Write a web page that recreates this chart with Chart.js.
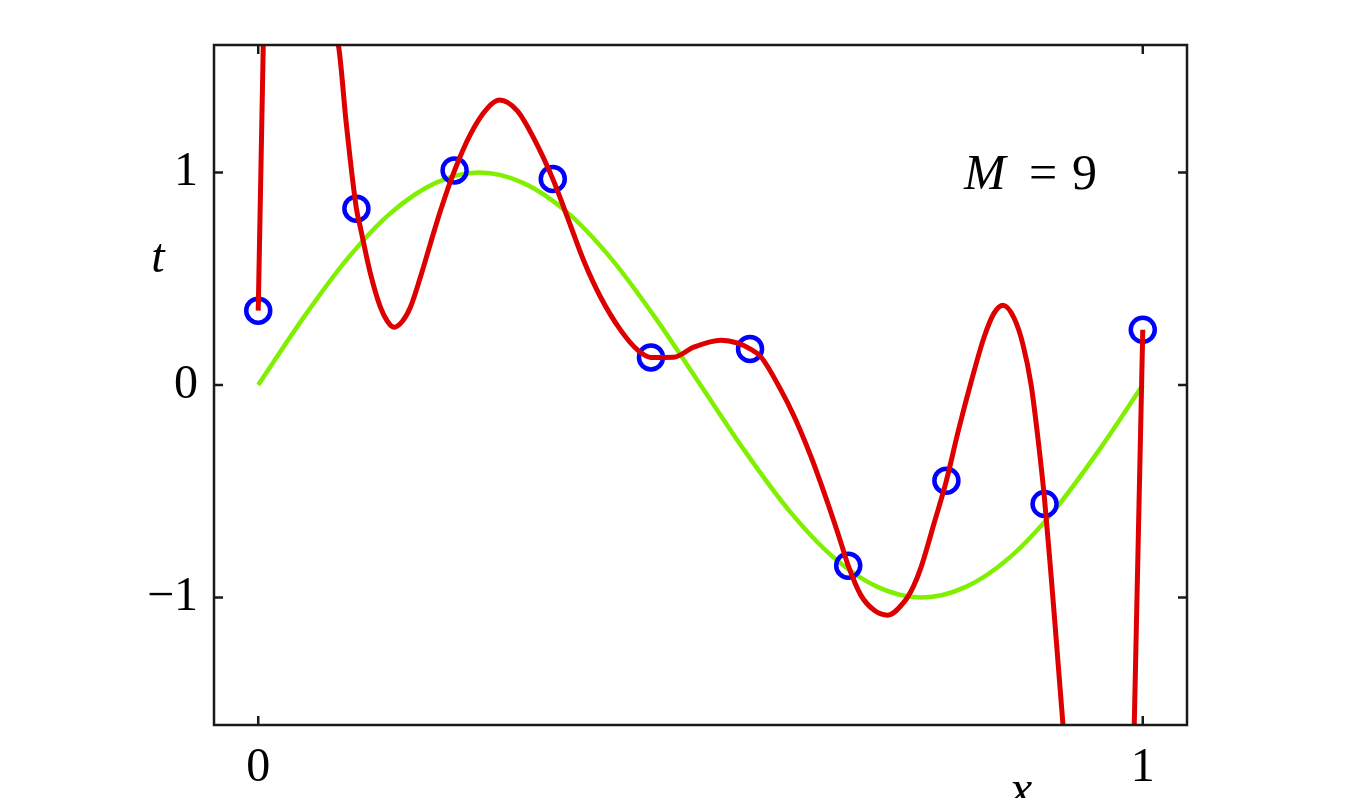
<!DOCTYPE html>
<html>
<head>
<meta charset="utf-8">
<script src="https://cdn.jsdelivr.net/npm/chart.js"></script>
<style>
  html, body { margin: 0; padding: 0; background: #fff; }
  #wrap { width: 1356px; height: 810px; }
</style>
</head>
<body>
<div id="wrap"><canvas id="chart" width="1356" height="810"></canvas></div>
<script>
// observed points
const pointX = [0, 0.111, 0.222, 0.333, 0.444, 0.556, 0.667, 0.778, 0.889, 1];
const pointT = [0.35, 0.83, 1.01, 0.97, 0.13, 0.17, -0.85, -0.45, -0.56, 0.26];

// green curve
const greenX = [0, 0.05, 0.1, 0.15, 0.2, 0.25, 0.3, 0.35, 0.4, 0.45, 0.5, 0.55, 0.6, 0.65, 0.7, 0.75, 0.8, 0.85, 0.9, 0.95, 1];
const greenT = [0, 0.31, 0.59, 0.81, 0.95, 1.0, 0.95, 0.81, 0.59, 0.31, 0, -0.31, -0.59, -0.81, -0.95, -1.0, -0.95, -0.81, -0.59, -0.31, 0];

// red M=9 fit (values beyond the frame are rough guesses)
const redX = [0, 0.0057, 0.0075, 0.045, 0.085, 0.0906, 0.0996, 0.111, 0.1155, 0.1268, 0.1381, 0.146, 0.1535, 0.163, 0.172, 0.1833,
  0.1947, 0.206, 0.222, 0.24, 0.2592, 0.2728, 0.2932, 0.3113, 0.333, 0.3497, 0.3679, 0.3871, 0.4097, 0.429, 0.444, 0.4697,
  0.4924, 0.5229, 0.5422, 0.556, 0.5682, 0.5908, 0.6059, 0.6248, 0.6437, 0.6587, 0.667, 0.6814, 0.6964, 0.7116, 0.73, 0.7402,
  0.7493, 0.764, 0.778, 0.7912, 0.8059, 0.8206, 0.8319, 0.8421, 0.8546, 0.8647, 0.8738, 0.8817, 0.889, 0.8964, 0.9021,
  0.9097, 0.9123, 0.955, 0.988, 0.9904, 1];
const redT = [0.35, 1.6, 2.0, 15, 1.81, 1.6, 1.228, 0.83, 0.741, 0.525, 0.366, 0.3, 0.272, 0.3, 0.366, 0.507,
  0.666, 0.82, 1.01, 1.181, 1.303, 1.341, 1.289, 1.163, 0.97, 0.788, 0.586, 0.413, 0.258, 0.164, 0.13, 0.131,
  0.178, 0.211, 0.197, 0.17, 0.133, -0.023, -0.148, -0.336, -0.554, -0.741, -0.85, -0.99, -1.06, -1.083, -1.022, -0.952,
  -0.858, -0.652, -0.45, -0.22, 0.014, 0.225, 0.338, 0.375, 0.314, 0.188, 0.0, -0.258, -0.54, -0.9, -1.195,
  -1.594, -1.75, -15, -2.05, -1.594, 0.26];

const xTicks = [0, 1];
const yTicks = [-1, 0, 1];

const FONT = 'Liberation Serif';
const toXY = (xs, ys) => xs.map((x, i) => ({x: x, y: ys[i]}));

const framePlugin = {
  id: 'frame',
  beforeDraw(chart) {
    const ctx = chart.ctx;
    ctx.save();
    ctx.fillStyle = '#fff';
    ctx.fillRect(0, 0, chart.width, chart.height);
    ctx.restore();
  },
  afterDraw(chart) {
    const {ctx, chartArea: a, scales: {x, y}} = chart;
    const tl = 9;
    ctx.save();
    ctx.strokeStyle = '#1a1a1a';
    ctx.lineWidth = 2.5;
    ctx.strokeRect(a.left, a.top, a.right - a.left, a.bottom - a.top);

    // inward ticks on all four sides
    ctx.beginPath();
    xTicks.forEach(v => {
      const px = x.getPixelForValue(v);
      ctx.moveTo(px, a.bottom); ctx.lineTo(px, a.bottom - tl);
      ctx.moveTo(px, a.top); ctx.lineTo(px, a.top + tl);
    });
    yTicks.forEach(v => {
      const py = y.getPixelForValue(v);
      ctx.moveTo(a.left, py); ctx.lineTo(a.left + tl, py);
      ctx.moveTo(a.right, py); ctx.lineTo(a.right - tl, py);
    });
    ctx.stroke();

    ctx.fillStyle = '#000';
    ctx.textBaseline = 'alphabetic';
    ctx.font = 'italic 48px "' + FONT + '"';
    ctx.textAlign = 'center';
    ctx.fillText('t', 158, 272);

    // the x label is cut by the bottom of the picture
    ctx.save();
    ctx.beginPath();
    ctx.rect(0, 0, chart.width, 798);
    ctx.clip();
    ctx.font = 'italic 50px "' + FONT + '"';
    ctx.fillText('x', 1021, 805);
    ctx.restore();

    ctx.font = 'italic 50px "' + FONT + '"';
    ctx.textAlign = 'left';
    ctx.fillText('M', 964, 189);
    ctx.font = '50px "' + FONT + '"';
    ctx.textAlign = 'center';
    ctx.fillText('=', 1043, 189);
    ctx.textAlign = 'left';
    ctx.fillText('9', 1072, 189);
    ctx.restore();
  }
};

new Chart(document.getElementById('chart'), {
  type: 'scatter',
  data: {
    datasets: [
      {
        label: 'fit',
        data: toXY(redX, redT),
        showLine: true,
        borderColor: 'rgb(222,0,0)',
        borderWidth: 5,
        pointRadius: 0,
        cubicInterpolationMode: 'monotone',
        clip: 0
      },
      {
        label: 'data',
        data: toXY(pointX, pointT),
        showLine: false,
        pointRadius: 12,
        pointBorderWidth: 4.5,
        pointBorderColor: 'rgb(0,0,255)',
        pointBackgroundColor: 'rgba(0,0,0,0)'
      },
      {
        label: 'sin',
        data: toXY(greenX, greenT),
        showLine: true,
        borderColor: 'rgb(128,240,0)',
        borderWidth: 4.5,
        pointRadius: 0,
        cubicInterpolationMode: 'monotone',
        clip: 0
      }
    ]
  },
  options: {
    responsive: false,
    animation: false,
    events: [],
    layout: {padding: {top: 45, right: 169, left: 0, bottom: 0}},
    plugins: {
      legend: {display: false},
      title: {display: false},
      tooltip: {enabled: false}
    },
    scales: {
      x: {
        type: 'linear',
        min: -0.05,
        max: 1.05,
        grid: {display: false},
        border: {display: false},
        afterBuildTicks: s => { s.ticks = xTicks.map(v => ({value: v})); },
        afterFit: s => { s.height = 85; },
        ticks: {
          padding: 7,
          maxRotation: 0,
          color: '#000',
          font: {family: FONT, size: 48},
          callback: v => String(v)
        }
      },
      y: {
        type: 'linear',
        min: -1.6,
        max: 1.6,
        grid: {display: false},
        border: {display: false},
        afterBuildTicks: s => { s.ticks = yTicks.map(v => ({value: v})); },
        afterFit: s => { s.width = 214; },
        ticks: {
          padding: 8,
          color: '#000',
          font: {family: FONT, size: 48},
          callback: v => v < 0 ? '\u2212' + Math.abs(v) : String(v)
        }
      }
    }
  },
  plugins: [framePlugin]
});
</script>
</body>
</html>
